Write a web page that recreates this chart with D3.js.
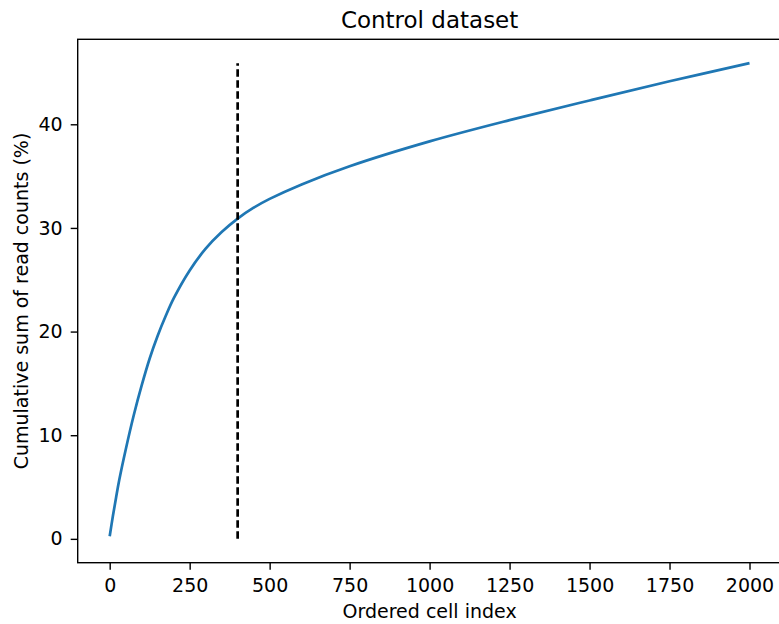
<!DOCTYPE html>
<html>
<head>
<meta charset="utf-8">
<script src="https://cdn.jsdelivr.net/npm/d3@7"></script>
<style>
  body { margin: 0; background: #fff; }
  text { font-family: "DejaVu Sans", sans-serif; fill: #000; }
</style>
</head>
<body>
<div id="chart"></div>
<script>
// values
var cellIndex = [0, 10, 20, 30, 50, 75, 100, 125, 150, 175, 200, 250, 300, 350, 400,
  450, 500, 600, 750, 1000, 1250, 1500, 1750, 2000];
var cumulativePct = [0.25, 2.2, 4.0, 5.7, 8.6, 11.9, 14.8, 17.4, 19.6, 21.5, 23.2, 25.9,
  28.0, 29.6, 30.9, 31.95, 32.8, 34.2, 35.95, 38.35, 40.4, 42.3, 44.15, 45.9];
var cutoffIndex = 400;
var xTicks = [0, 250, 500, 750, 1000, 1250, 1500, 1750, 2000];
var yTicks = [0, 10, 20, 30, 40];

var W = 779, H = 624;
var margin = {left: 77.7, top: 39.3, right: 781.5, bottom: 562.7};

var svg = d3.select("#chart").append("svg")
  .attr("width", W)
  .attr("height", H);

var xScale = d3.scaleLinear()
  .domain([-100, 2100])
  .range([margin.left, margin.right]);

var yScale = d3.scaleLinear()
  .domain([-2.3, 48.2])
  .range([margin.bottom, margin.top]);

var data = cellIndex.map(function(d, i) {
  return {x: d, y: cumulativePct[i]};
});

// curve
svg.append("path")
  .datum(data)
  .attr("fill", "none")
  .attr("stroke", "#1f77b4")
  .attr("stroke-width", 2.7)
  .attr("d", d3.line()
    .x(function(d) { return xScale(d.x); })
    .y(function(d) { return yScale(d.y); })
    .curve(d3.curveCatmullRom));

// cutoff line
svg.append("line")
  .attr("x1", xScale(cutoffIndex))
  .attr("x2", xScale(cutoffIndex))
  .attr("y1", yScale(0))
  .attr("y2", yScale(d3.max(cumulativePct)))
  .attr("stroke", "#000")
  .attr("stroke-width", 2.7)
  .attr("stroke-dasharray", "7.6,3.4");

// axes
var xAxis = d3.axisBottom(xScale)
  .tickValues(xTicks)
  .tickFormat(d3.format("d"))
  .tickSize(7)
  .tickPadding(9)
  .tickSizeOuter(0);

var yAxis = d3.axisLeft(yScale)
  .tickValues(yTicks)
  .tickFormat(d3.format("d"))
  .tickSize(7)
  .tickPadding(8)
  .tickSizeOuter(0);

var gx = svg.append("g")
  .attr("transform", "translate(0," + margin.bottom + ")")
  .call(xAxis);

var gy = svg.append("g")
  .attr("transform", "translate(" + margin.left + ",0)")
  .call(yAxis);

[gx, gy].forEach(function(g) {
  g.select(".domain").remove();
  g.selectAll(".tick line").attr("stroke", "#000").attr("stroke-width", 1.4);
  g.selectAll(".tick text")
    .attr("font-family", "DejaVu Sans")
    .attr("font-size", 19)
    .attr("fill", "#000");
});

// frame
svg.append("rect")
  .attr("x", margin.left)
  .attr("y", margin.top)
  .attr("width", margin.right - margin.left)
  .attr("height", margin.bottom - margin.top)
  .attr("fill", "none")
  .attr("stroke", "#000")
  .attr("stroke-width", 1.4);

// labels
svg.append("text")
  .attr("x", (margin.left + margin.right) / 2)
  .attr("y", 28)
  .attr("text-anchor", "middle")
  .attr("font-size", 23)
  .text("Control dataset");

svg.append("text")
  .attr("x", (margin.left + margin.right) / 2)
  .attr("y", 618)
  .attr("text-anchor", "middle")
  .attr("font-size", 19)
  .text("Ordered cell index");

svg.append("text")
  .attr("transform", "translate(27.5," + ((margin.top + margin.bottom) / 2) + ") rotate(-90)")
  .attr("text-anchor", "middle")
  .attr("font-size", 19)
  .text("Cumulative sum of read counts (%)");
</script>
</body>
</html>
